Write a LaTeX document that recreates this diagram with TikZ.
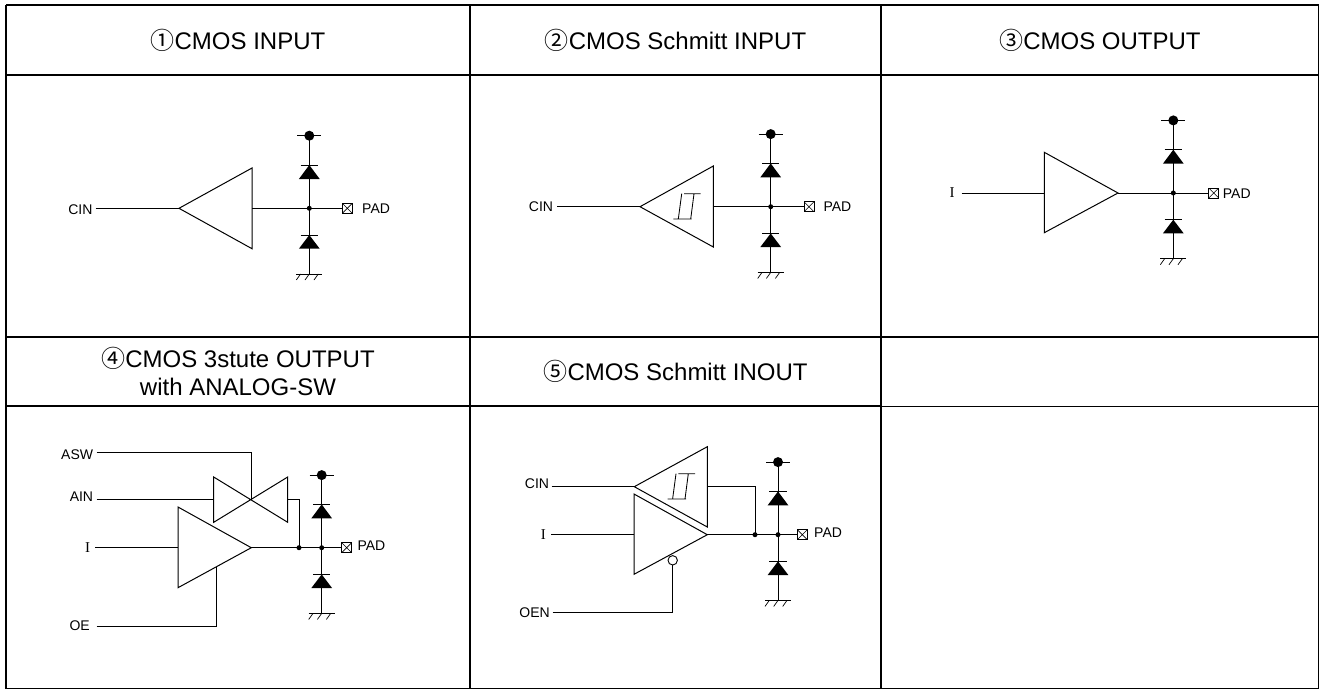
\documentclass[tikz,border=0pt]{standalone}
\usepackage{fontspec}
\setmainfont{Liberation Sans}
\newfontfamily\cjkf{Noto Sans CJK JP}
\newfontfamily\serf{Liberation Serif}
\tikzset{
  grid/.style={line width=1.6pt,black},
  thingrid/.style={line width=0.9pt,black},
  wire/.style={line width=1pt,black,line join=miter},
  head/.style={inner sep=0pt,font=\fontsize{24}{28.7}\selectfont,align=center},
  lab/.style={inner sep=0pt,font=\fontsize{14}{16}\selectfont},
  serlab/.style={inner sep=0pt,font=\fontsize{15}{16}\serf},
  jdot/.style={circle,fill=black,inner sep=0pt,minimum size=5pt},
  padbox/.style={draw,line width=0.8pt,minimum size=10pt,inner sep=0pt,path picture={
    \draw[line width=0.6pt] (path picture bounding box.south west)--(path picture bounding box.north east)
      (path picture bounding box.north west)--(path picture bounding box.south east);}},
  bubble/.style={circle,draw,line width=0.9pt,fill=white,inner sep=0pt,minimum size=9.4pt},
}
% #1 prefix, #2 jx, #3 jy, #4 box offset, #5 PAD offset x, #6 PAD offset y
\newcommand{\padstack}[6]{%
 \begin{scope}[shift={(#2,#3)}]
  \coordinate (#1j) at (0,0);
  \coordinate (#1vcc) at (0,-72.6);
  \coordinate (#1gnd) at (0,65.7);
  \node[padbox] (#1box) at (#4+5,0) {};
  \node[lab,anchor=west] (#1pad) at (#5,#6) {PAD};
  \draw[wire] (#1vcc)--(#1gnd);
  \draw[wire] (#1j)--(#1box.west);
  \fill (#1vcc) circle (5);
  \draw[wire] (-12,-72.6)--(12,-72.6);
  \fill (0,-43.3)--(-10.4,-29.3)--(10.4,-29.3)--cycle;
  \draw[wire] (-8.7,-43.3)--(8.7,-43.3);
  \fill (0,26.7)--(-10.4,40.4)--(10.4,40.4)--cycle;
  \draw[wire] (-8.7,26.7)--(8.7,26.7);
  \draw[wire] (-13,65.7)--(13,65.7);
  \foreach \hx in {-8.7,0,9}{\draw[line width=0.7pt] (\hx,65.7)--(\hx-4.3,71.7);}
  \node[jdot] at (#1j) {};
 \end{scope}}
% Schmitt mark, apex at (#1,#2)
\newcommand{\schmitt}[2]{%
 \begin{scope}[shift={(#1,#2)}]
  \draw[line width=0.85pt] (44,-13)--(60.7,-13) (33.3,12.3)--(51.7,12.3)
     (41.7,-13)--(38.3,12.3) (54,-13)--(50.7,12.3);
 \end{scope}}
\begin{document}
\begin{tikzpicture}[x=1pt,y=-1pt]
\useasboundingbox (0,0) rectangle (1324,689);
% table
\draw[grid] (6,5)--(1318.7,5) (6,74.7)--(1318.7,74.7) (6,336.7)--(1318.7,336.7) (6,406)--(881,406);
\draw[thingrid] (881,406)--(1318.7,406) (6,688.2)--(1318.7,688.2) (1318.7,5)--(1318.7,688.7);
\draw[grid] (6,5)--(6,688.7) (470,5)--(470,688.7) (881,5)--(881,688.7);
% headers
\node[head] (h1) at (238,40) {{\cjkf ①}CMOS INPUT};
\node[head] (h2) at (675.5,40) {{\cjkf ②}CMOS Schmitt INPUT};
\node[head] (h3) at (1100,40) {{\cjkf ③}CMOS OUTPUT};
\node[head] (h4) at (238,371.5) {{\cjkf ④}CMOS 3stute OUTPUT\\with ANALOG-SW};
\node[head] (h5) at (675.5,371.5) {{\cjkf ⑤}CMOS Schmitt INOUT};
% ---- 1
\padstack{a}{309.3}{208.3}{33}{52.7}{0.7}
\node[lab,anchor=east] (acin) at (92.7,209.3) {CIN};
\coordinate (atri) at (179,208.3);
\coordinate (aout) at (252,208.3);
\draw[wire] (252,168)--(252,248.7)--(atri)--cycle;
\draw[wire] (95.7,208.3)--(atri);
\draw[wire] (aout)--(aj);
% ---- 2
\padstack{b}{770.7}{206.7}{33.3}{52.6}{0}
\node[lab,anchor=east] (bcin) at (553.3,206.7) {CIN};
\coordinate (btri) at (640,206.7);
\coordinate (bout) at (713.3,206.7);
\draw[wire] (713.3,166)--(713.3,247)--(btri)--cycle;
\schmitt{640}{206.7}
\draw[wire] (557.3,206.7)--(btri);
\draw[wire] (bout)--(bj);
% ---- 3
\padstack{c}{1173.3}{193}{35.4}{49.4}{0.3}
\node[serlab] (ci) at (952,193) {I};
\coordinate (ctri) at (1044.3,193);
\coordinate (capex) at (1118,193);
\draw[wire] (1044.3,152.3)--(1044.3,232.7)--(capex)--cycle;
\draw[wire] (961.7,193)--(ctri);
\draw[wire] (capex)--(cj);
% ---- 4
\padstack{d}{321.7}{547.7}{20}{35.6}{-2.4}
\node[lab,anchor=east] (dasw) at (93.3,455) {ASW};
\node[lab,anchor=east] (dain) at (93.3,497) {AIN};
\node[serlab] (di) at (87.7,547.7) {I};
\node[lab,anchor=east] (doe) at (90,626) {OE};
\coordinate (dsw) at (251,499.3);
\draw[wire] (213.7,477)--(213.7,522.3)--(287.7,477)--(287.7,522.3)--cycle;
\draw[wire] (96.7,452.7)--(251,452.7)--(dsw);
\draw[wire] (96.7,499.3)--(213.7,499.3);
\coordinate (djj) at (299,547.7);
\draw[wire] (287.7,499.3)--(299,499.3)--(djj);
\draw[wire] (178,507)--(178,587.7)--(251.3,547.7)--cycle;
\draw[wire] (95,547.7)--(178,547.7);
\draw[wire] (251.3,547.7)--(dj);
\draw[wire] (96.7,626)--(216.7,626)--(216.7,566.6);
\node[jdot] at (djj) {};
% ---- 5
\padstack{e}{778}{534.7}{19.3}{36}{-2}
\node[lab,anchor=east] (ecin) at (549.3,484) {CIN};
\node[serlab] (ei) at (543.3,534.7) {I};
\node[lab,anchor=east] (eoen) at (550,612.3) {OEN};
\draw[wire] (634.3,486.7)--(707.3,446.7)--(707.3,527)--cycle;
\schmitt{634.3}{486.7}
\draw[wire] (551.7,486.7)--(634.3,486.7);
\coordinate (ejj) at (755,534.7);
\draw[wire] (707.3,486.7)--(755,486.7)--(ejj);
\draw[wire] (634,494)--(634,574.3)--(707.3,534.7)--cycle;
\draw[wire] (551,534.7)--(634,534.7);
\draw[wire] (707.3,534.7)--(ej);
\node[bubble] (ebub) at (672.7,560.3) {};
\draw[wire] (552.7,612.3)--(672.7,612.3)--(ebub.south);
\node[jdot] at (ejj) {};
\end{tikzpicture}
\end{document}
